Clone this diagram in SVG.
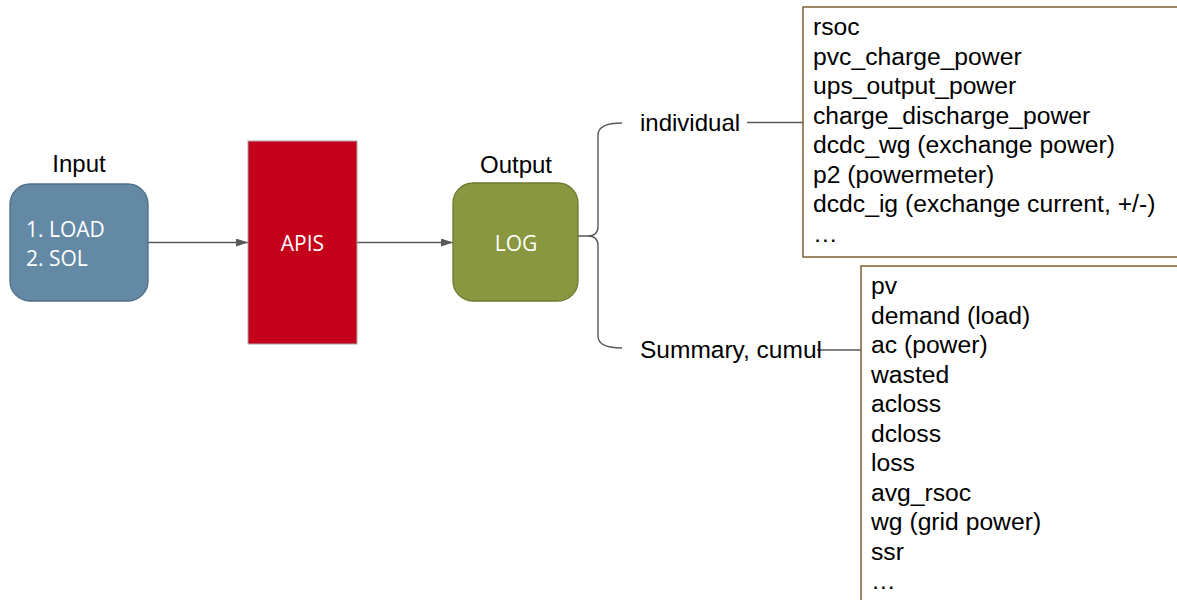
<svg xmlns="http://www.w3.org/2000/svg" width="1177" height="600" viewBox="0 0 1177 600">
<style>
.lbl{font-family:"Liberation Sans",Arial,sans-serif;font-size:24px;fill:#000}
.lst{font-family:"Liberation Sans",Arial,sans-serif;font-size:24.7px;fill:#000}
.wt{font-family:"Open Sans","Liberation Sans",sans-serif;font-size:21px;fill:#fff}
.conn{stroke:#595959;stroke-width:1.4;fill:none}
.box{fill:#fff;stroke:#7f6230;stroke-width:1.5}
</style>
<defs>
<marker id="arr" markerWidth="12" markerHeight="8" refX="12" refY="4" orient="auto" markerUnits="userSpaceOnUse">
<path d="M0,0 L12,4 L0,8 Z" fill="#595959"/>
</marker>
</defs>
<rect width="1177" height="600" fill="#fff"/>
<g id="connectors">
<line class="conn" x1="148" y1="242.5" x2="248" y2="242.5" marker-end="url(#arr)"/>
<line class="conn" x1="357" y1="242.5" x2="453" y2="242.5" marker-end="url(#arr)"/>
<path class="conn" d="M622,123 Q598,123 598,135 L598,226 Q598,236 588,236 L578,236 M588,236 Q598,236 598,246 L598,336 Q598,348 622,348"/>
<line class="conn" x1="747" y1="122.5" x2="803" y2="122.5"/>
<line class="conn" x1="817" y1="350" x2="861" y2="350"/>
</g>
<g id="input">
<text class="lbl" x="79" y="172" text-anchor="middle">Input</text>
<rect x="10" y="184" width="138" height="117" rx="20" fill="#6389a5" stroke="#4e6e86" stroke-width="1.3"/>
<text class="wt" x="26" y="237">1. LOAD</text>
<text class="wt" x="26" y="266">2. SOL</text>
</g>
<g id="apis">
<rect x="248" y="141" width="109" height="203" fill="#c5001a" stroke="#a8a8a8" stroke-width="1"/>
<text class="wt" x="302.5" y="251" text-anchor="middle">APIS</text>
</g>
<g id="log">
<text class="lbl" x="516" y="173" text-anchor="middle">Output</text>
<rect x="453" y="183" width="125" height="118" rx="20" fill="#899840" stroke="#6b7a30" stroke-width="1.3"/>
<text class="wt" x="516" y="251" text-anchor="middle">LOG</text>
</g>
<g id="individual">
<text class="lbl" x="640" y="131">individual</text>
</g>
<g id="summary">
<text class="lbl" x="640" y="358" style="font-size:24.5px">Summary, cumul</text>
</g>
<g id="individual-list">
<rect class="box" x="803" y="7" width="380" height="250"/>
<text class="lst" x="813">
<tspan x="813" y="35">rsoc</tspan>
<tspan x="813" y="64.5">pvc_charge_power</tspan>
<tspan x="813" y="94">ups_output_power</tspan>
<tspan x="813" y="123.5">charge_discharge_power</tspan>
<tspan x="813" y="153">dcdc_wg (exchange power)</tspan>
<tspan x="813" y="182.5">p2 (powermeter)</tspan>
<tspan x="813" y="212">dcdc_ig (exchange current, +/-)</tspan>
<tspan x="813" y="241.5">…</tspan>
</text>
</g>
<g id="summary-list">
<rect class="box" x="861" y="266" width="330" height="350"/>
<text class="lst" x="871">
<tspan x="871" y="294">pv</tspan>
<tspan x="871" y="323.5">demand (load)</tspan>
<tspan x="871" y="353">ac (power)</tspan>
<tspan x="871" y="382.5">wasted</tspan>
<tspan x="871" y="412">acloss</tspan>
<tspan x="871" y="441.5">dcloss</tspan>
<tspan x="871" y="471">loss</tspan>
<tspan x="871" y="500.5">avg_rsoc</tspan>
<tspan x="871" y="530">wg (grid power)</tspan>
<tspan x="871" y="559.5">ssr</tspan>
<tspan x="871" y="589">…</tspan>
</text>
</g>
</svg>
